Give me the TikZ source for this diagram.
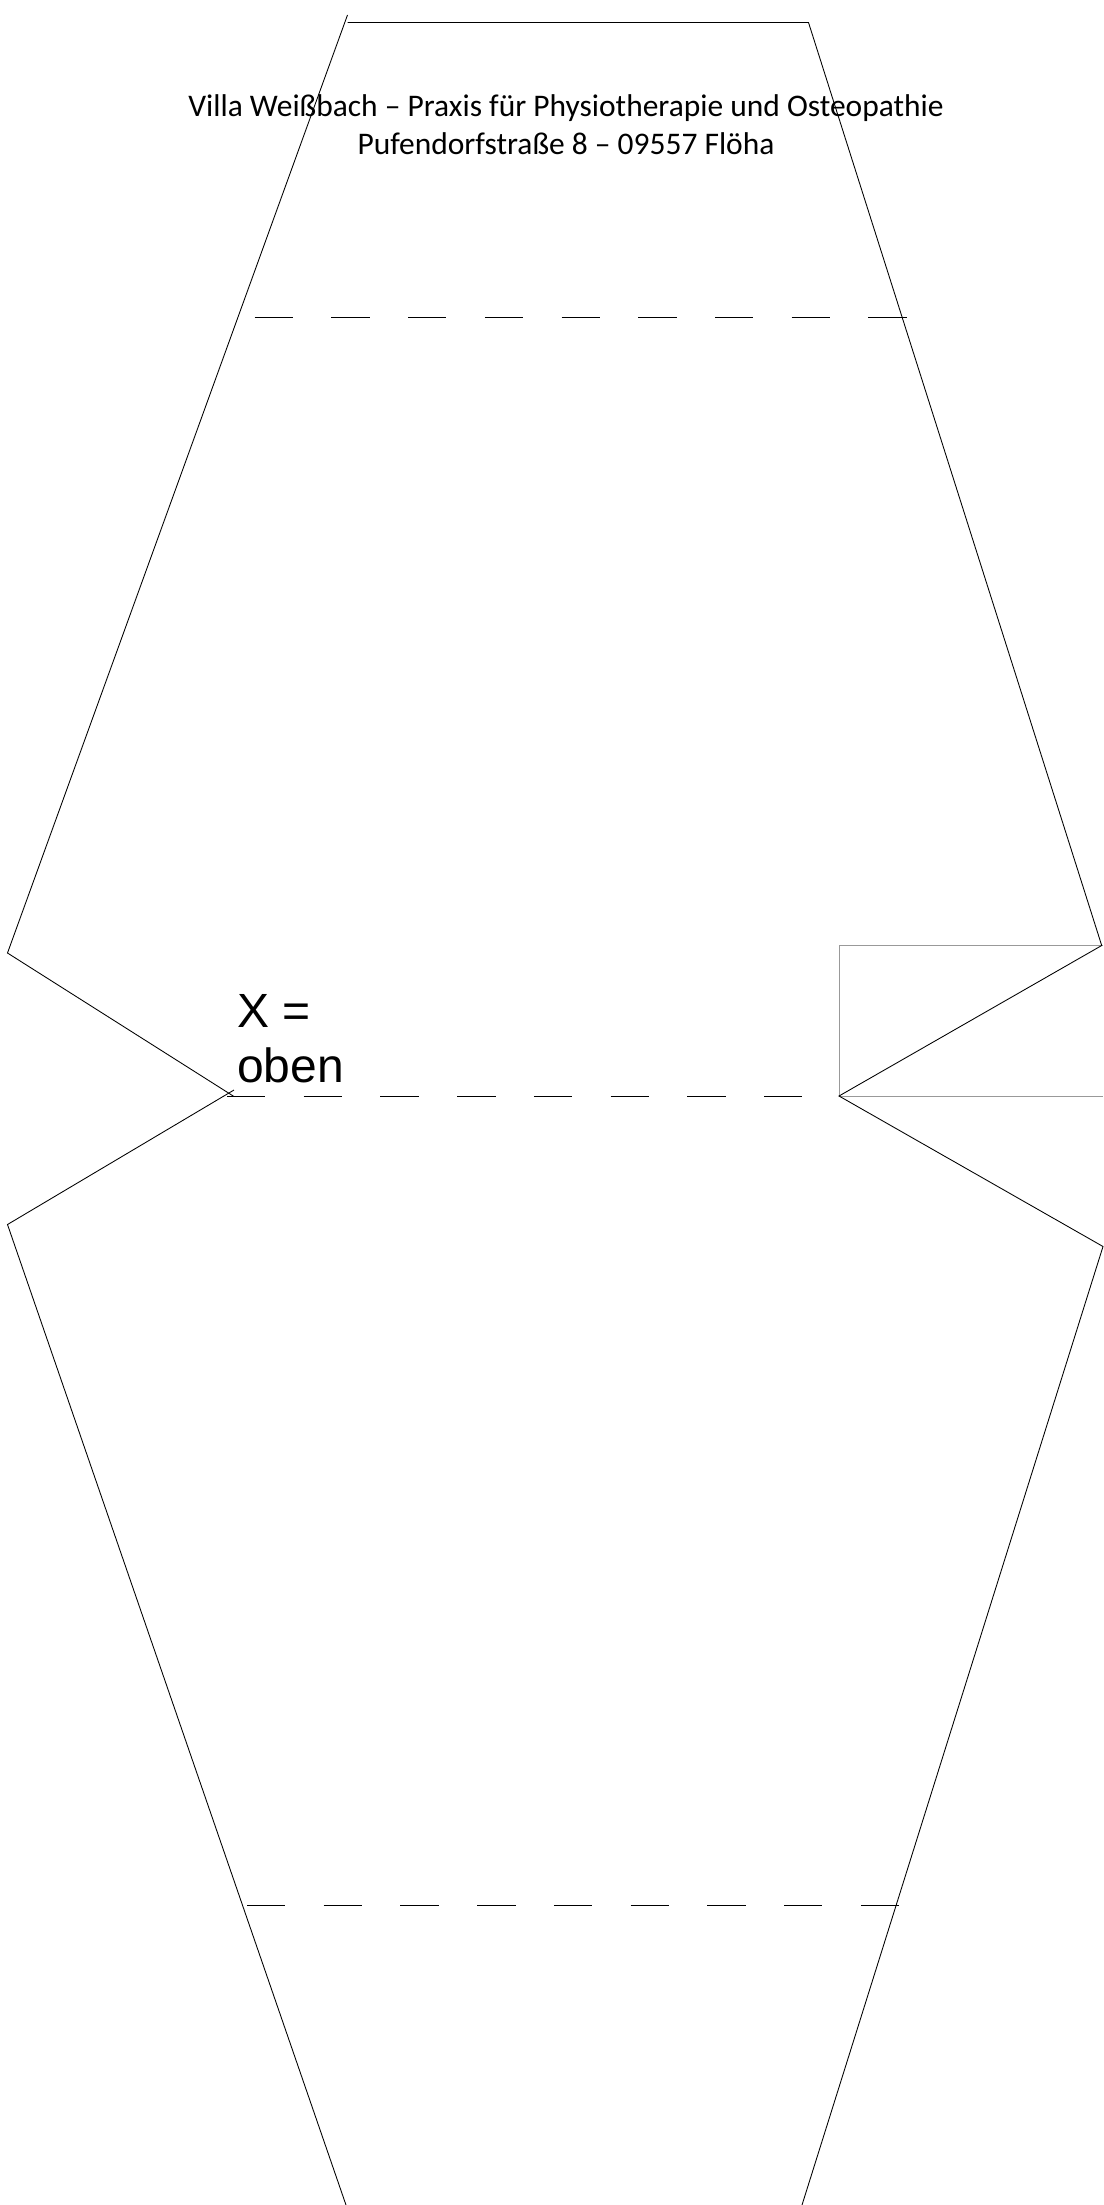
\documentclass[tikz,border=0pt]{standalone}
\usepackage{fontspec}
\setmainfont{Carlito}
\newfontfamily\labelfont{Liberation Sans}

\begin{document}
\begin{tikzpicture}
[x=0.75pt,y=-0.75pt,%
  cutline/.style={black,line width=0.65pt,line join=miter},%
  foldline/.style={black,line width=0.65pt,dash pattern=on 28.75pt off 28.8pt},%
  guideline/.style={black!40,line width=0.7pt},%
  header/.style={inner sep=0pt,align=center,font=\fontsize{23.6pt}{28.5pt}\selectfont},%
  sidenote/.style={inner sep=0pt,align=left,font=\labelfont\fontsize{36pt}{41pt}\selectfont}]
\useasboundingbox (0,0) rectangle (1103,2205);
\coordinate (topstart) at (347.5,15);
\coordinate (topleft) at (347.5,22.5);
\coordinate (topright) at (808.5,22.5);
\coordinate (upright) at (1101.7,945.5);
\coordinate (upleft) at (7.5,953);
\coordinate (notchleft) at (234,1096.5);
\coordinate (notchlow) at (234,1090);
\coordinate (lowleft) at (7.5,1224.5);
\coordinate (bottomleft) at (346,2205);
\coordinate (bottomright) at (802,2205);
\coordinate (lowright) at (1103,1246.5);
\coordinate (notchright) at (839,1096);
\coordinate (boxtop) at (839,945);
\coordinate (boxcorner) at (1103,945);
\coordinate (boxright) at (1103,1096);
\coordinate (foldAa) at (254.6,317);
\coordinate (foldAb) at (907,317);
\coordinate (foldBa) at (227,1096);
\coordinate (foldBb) at (839,1096);
\coordinate (foldCa) at (247,1905.5);
\coordinate (foldCb) at (899,1905.5);

\draw[guideline] (boxcorner) -- (boxtop) -- (notchright) -- (boxright);
\draw[cutline] (topstart) -- (upleft) -- (notchleft);
\draw[cutline] (topleft) -- (topright) -- (upright) -- (notchright) -- (lowright) -- (bottomright);
\draw[cutline] (notchlow) -- (lowleft) -- (bottomleft);
\draw[foldline] (foldAa) -- (foldAb);
\draw[foldline] (foldBa) -- (foldBb);
\draw[foldline] (foldCa) -- (foldCb);

\node[header] (title) at (566,124.5)
  {Villa Weißbach – Praxis für Physiotherapie und Osteopathie\\
   Pufendorfstraße 8 – 09557 Flöha};
\node[sidenote,anchor=west] (mark) at (237,1039) {X =\\oben};
\end{tikzpicture}
\end{document}
